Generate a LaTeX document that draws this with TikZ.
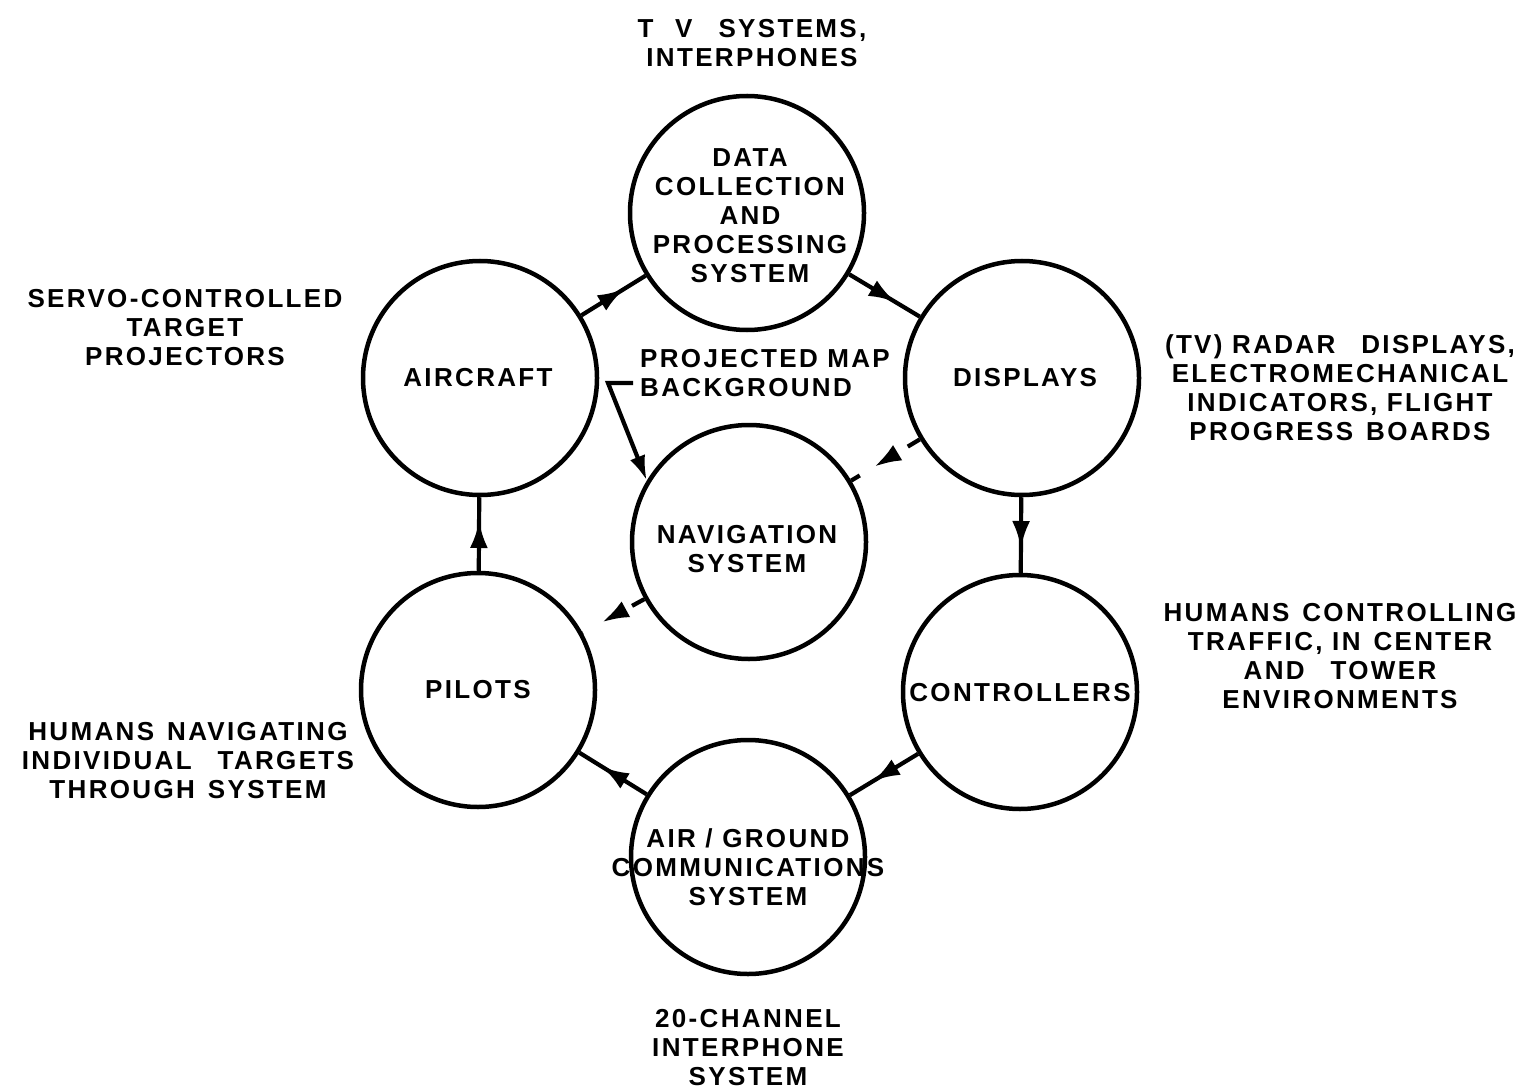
\documentclass[tikz,border=0pt]{standalone}
\usepackage{fontspec}
\newfontfamily\labfont[LetterSpace=9]{Liberation Sans}
\usetikzlibrary{arrows.meta,decorations.markings}
\tikzset{
  circ/.style={circle,draw,line width=4.5pt,minimum size=234pt,inner sep=0pt},
  lab/.style={align=center,font=\labfont\bfseries\fontsize{26}{29}\selectfont,inner sep=0pt},
  conn/.style={line width=4.2pt},
  midarrow/.style={postaction={decorate},decoration={markings,
    mark=at position 0.5 with {\arrow[xshift=13pt]{Latex[length=27pt,width=18pt]}}}},
  dashconn/.style={line width=4.2pt,dash pattern=on 14pt off 56pt},
}
\begin{document}
\begin{tikzpicture}[x=1pt,y=-1pt]
\useasboundingbox (0,0) rectangle (1534,1091);
% circles
\node[circ] (data) at (747,213) {};
\node[circ] (air)  at (480,378) {};
\node[circ] (disp) at (1022,378) {};
\node[circ] (nav)  at (749,542) {};
\node[circ] (pil)  at (478,690) {};
\node[circ] (ctrl) at (1020,692) {};
\node[circ] (agc)  at (748,857) {};
% circle texts
\node[lab] (datat) at (750,216) {DATA\\COLLECTION\\AND\\PROCESSING\\SYSTEM};
\node[lab] (airt)  at (478,378) {AIRCRAFT};
\node[lab] (dispt) at (1025,378) {DISPLAYS};
\node[lab] (navt)  at (747,549) {NAVIGATION\\SYSTEM};
\node[lab] (pilt)  at (478,690) {PILOTS};
\node[lab] (ctrlt) at (1020,693) {CONTROLLERS};
\node[lab] (agct)  at (748,867) {AIR / GROUND\\COMMUNICATIONS\\SYSTEM};
% outer texts
\node[lab] (tv) at (752,43) {T\;\;\;V\quad SYSTEMS,\\INTERPHONES};
\node[lab] (servo) at (185,328) {SERVO-CONTROLLED\\TARGET\\PROJECTORS};
\node[lab] (radar) at (1340,388) {(TV) RADAR\quad DISPLAYS,\\ELECTROMECHANICAL\\INDICATORS, FLIGHT\\PROGRESS\enspace BOARDS};
\node[lab] (hctrl) at (1340,656) {HUMANS\enspace CONTROLLING\\TRAFFIC, IN\enspace CENTER\\AND\quad TOWER\\ENVIRONMENTS};
\node[lab] (hnav) at (188,761) {HUMANS\enspace NAVIGATING\\INDIVIDUAL\quad TARGETS\\THROUGH\enspace SYSTEM};
\node[lab] (chan) at (748,1048) {20-CHANNEL\\INTERPHONE\\SYSTEM};
\node[lab,align=left,anchor=west] (pm) at (640,373) {PROJECTED MAP\\BACKGROUND};
% connectors
\draw[conn,midarrow] (air) -- (data);
\draw[conn,midarrow] (data) -- (disp);
\draw[conn,midarrow] (disp) -- (ctrl);
\draw[conn,midarrow] (ctrl) -- (agc);
\draw[conn,midarrow] (agc) -- (pil);
\draw[conn,midarrow] (pil) -- (air);
\draw[dashconn,midarrow] (disp) -- (nav);
\draw[dashconn,midarrow] (nav) -- (pil);
\coordinate (pmk) at (633,383);
\coordinate (pmc) at (608,383);
\draw[conn,-{Latex[length=25pt,width=16pt]}] (pmk) -- (pmc) -- (nav.149);
\end{tikzpicture}
\end{document}
